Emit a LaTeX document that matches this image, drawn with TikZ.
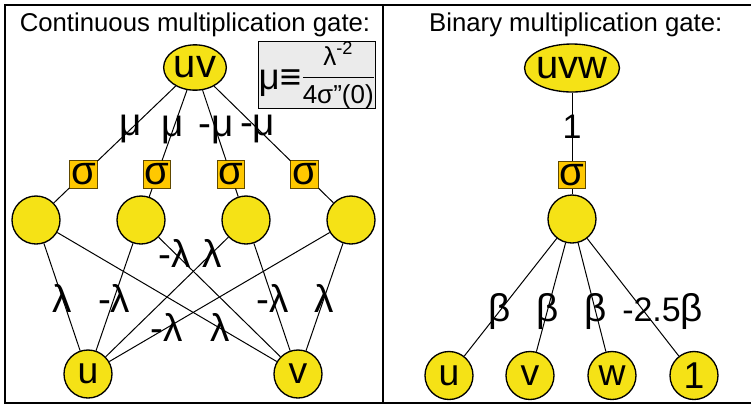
\documentclass[tikz,border=0pt]{standalone}
\usepackage{amsmath}
\usepackage{fontspec}
\setmainfont{Liberation Sans}
\usetikzlibrary{shapes.geometric}

\definecolor{unityellow}{RGB}{245,226,22}
\definecolor{sigorange}{RGB}{255,200,0}
\definecolor{sigedge}{RGB}{95,72,0}

\tikzset{every picture/.style={line width=0.75pt}}
\tikzset{
  unit/.style={circle,draw,line width=1pt,fill=unityellow,minimum size=36pt,inner sep=0pt,font=\fontsize{28pt}{28pt}\selectfont},
  outnode/.style={ellipse,draw,line width=1pt,fill=unityellow,inner sep=0pt,font=\fontsize{30pt}{30pt}\selectfont},
  sigbox/.style={rectangle,draw=sigedge,line width=0.6pt,fill=sigorange,minimum size=20.5pt,inner sep=0pt,font=\fontsize{30pt}{30pt}\selectfont},
  wlabel/.style={inner sep=0pt,font=\fontsize{29pt}{29pt}\selectfont},
  heading/.style={anchor=base,inner sep=0pt,font=\fontsize{19.3pt}{20pt}\selectfont},
  mubox/.style={rectangle,draw,line width=1.1pt,fill=black!8,minimum width=87pt,minimum height=48pt,inner sep=0pt},
}
\newcommand{\numsize}{\fontsize{25.5pt}{26pt}\selectfont}

\begin{document}
\begin{tikzpicture}[x=0.75pt,y=0.75pt,yscale=-1,xscale=1]
\useasboundingbox (0,0) rectangle (751,405);
%Frame
\draw [line width=1.5pt]  (751,5) -- (5,5) -- (5,403) -- (751,403) ;
\draw [line width=1.5pt]  (382.7,5) -- (382.7,403) ;

% Text Node
\node [heading] (ltitle) at (195,31.7) {Continuous multiplication gate:};
% Text Node
\node [heading] (rtitle) at (575.8,31.7) {Binary multiplication gate:};

%Continuous gate
\node [outnode,minimum width=47pt,minimum height=34pt] (uv) at (195,67.5) {uv};
\node [mubox] (mudef) at (317,75) {{\fontsize{27.5pt}{28pt}\selectfont μ≡}\fontsize{19.5pt}{20pt}\selectfont\raisebox{4pt}{$\displaystyle\frac{\text{λ}^{\text{-2}}}{\text{4σ”(0)}}$}};
\node [unit] (h1) at (36,220) {};
\node [unit] (h2) at (141,220) {};
\node [unit] (h3) at (246,220) {};
\node [unit] (h4) at (351,220) {};
\node [sigbox] (s1) at (83.4,174.5) {σ};
\node [sigbox] (s2) at (157.1,174.5) {σ};
\node [sigbox] (s3) at (230.8,174.5) {σ};
\node [sigbox] (s4) at (304.5,174.5) {σ};
\node [unit] (u) at (88,374) {u};
\node [unit] (v) at (298,374) {v};

\draw (uv) -- node [wlabel,pos=0.57] {μ} (s1) -- (h1) ;
\draw (uv) -- node [wlabel,pos=0.57] {μ} (s2) -- (h2) ;
\draw (uv) -- node [wlabel,pos=0.57] {-μ} (s3) -- (h3) ;
\draw (uv) -- node [wlabel,pos=0.57] {-μ} (s4) -- (h4) ;

\draw (h1) -- node [wlabel,pos=0.51] {λ} (u) ;
\draw (h1) -- node [wlabel,pos=0.74] {λ} (v) ;
\draw (h2) -- node [wlabel,pos=0.51] {-λ} (u) ;
\draw (h2) -- node [wlabel,pos=0.134] {-λ} (v) ;
\draw (h3) -- node [wlabel,pos=0.134] {λ} (u) ;
\draw (h3) -- node [wlabel,pos=0.51] {-λ} (v) ;
\draw (h4) -- node [wlabel,pos=0.74] {-λ} (u) ;
\draw (h4) -- node [wlabel,pos=0.51] {λ} (v) ;

%Binary gate
\node [outnode,minimum width=70.5pt,minimum height=36pt,inner xsep=-1.5pt] (uvw) at (572,68) {uvw};
\node [sigbox] (sb) at (572,175) {σ};
\node [unit] (hb) at (572,219) {};
\node [unit] (bu) at (449,375.5) {u};
\node [unit] (bv) at (530,375.5) {v};
\node [unit] (bw) at (612,375.5) {w};
\node [unit] (bone) at (694,375.5) {1};

\draw (uvw) -- node [wlabel] {\numsize 1} (sb) -- (hb) ;
\draw (hb) -- node [wlabel,pos=0.62] {β} (bu) ;
\draw (hb) -- node [wlabel,pos=0.63] {β} (bv) ;
\draw (hb) -- node [wlabel,pos=0.63] {β} (bw) ;
\draw (hb) -- node [wlabel,pos=0.62,xshift=14pt] {{\numsize -2.5}β} (bone) ;
\end{tikzpicture}
\end{document}
